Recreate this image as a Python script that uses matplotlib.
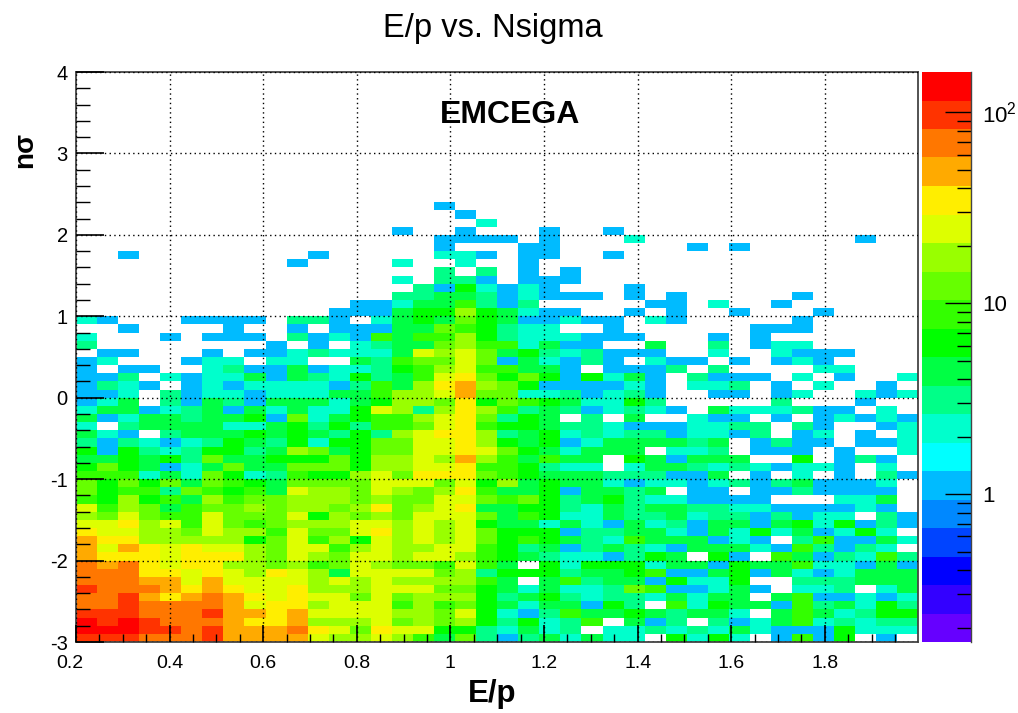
import numpy as np
import matplotlib
matplotlib.use("Agg")
import matplotlib.pyplot as plt
from matplotlib.colors import ListedColormap, LogNorm
from matplotlib.ticker import FixedLocator, LogLocator, NullFormatter
from matplotlib.transforms import ScaledTranslation

plt.rcParams['font.family'] = ['Liberation Sans', 'DejaVu Sans']
plt.rcParams['mathtext.default'] = 'regular'
plt.rcParams['axes.unicode_minus'] = False

# counts per cell read off the colour scale, one letter per cell, top row is y = 2.3
# columns are E/p bins 0.2..2.0 (40), rows are n sigma bins -3..2.4 (54)
count_of = {'.': 0, 'b': 1, 'c': 2, 'd': 3, 'e': 4, 'f': 6, 'g': 9, 'h': 12,
            'i': 17, 'j': 25, 'k': 35, 'l': 50, 'm': 70, 'n': 100, 'o': 135}

rows = [
    "..... ..... ..... ..b.. ..... ..... ..... .....",
    "..... ..... ..... ...b. ..... ..... ..... .....",
    "..... ..... ..... ....c ..... ..... ..... .....",
    "..... ..... ..... b..b. ..b.. b.... ..... .....",
    "..... ..... ..... ..bbb b.b.. .c... ..... ..b..",
    "..... ..... ..... ..b.. .bb.. ....b .b... .....",
    "..b.. ..... .b... ..ccb .bb.. b.... ..... .....",
    "..... ..... b.... c..c. .b... ..... ..... .....",
    "..... ..... ..... ..d.d .b.b. ..... ..... .....",
    "..... ..... ..... c.ddb .bbb. ..... ..... .....",
    "..... ..... ..... .dbfc bcb.. .b... ..... .....",
    "..... ..... ..... ddeed bcbbb .b.b. ....b .....",
    "..... ..... ...bb ceegd bd... ..bb. c..b. .....",
    "..... ..... ..bbb effif ecbb. .b.b. .b... b....",
    "cb... bbbb. ddb.c efehf ebbcb b.cb. ....b .....",
    "..b.. ..b.. b.bbb eehgf dcc.. b.... ..bbb .....",
    "c...b .bbb. dbcbg eggif dcccb bb... b.b.. .....",
    "d.... ....b .b.cd eehig gcebb ..e.. d.bcc .....",
    ".bb.. .b.bb cdccc ejijh efdcd bbb.. c..cb bb...",
    "bc... bcc.c c..ed ghhjh becbd b.cbb .b.bc b....",
    "b.bb. .cdbb ebccd fgijg geeb. bbbd. d.... cc...",
    "bbd.c bcceb edcfd egjkh fhfbf ceb.d bbb.c .b..c",
    "bdcb. bcbcc ccbdg eikli hfbbb bcb.c cd.b. c..b.",
    "bbc.d bccbc cceeg iijlh hccdb cdb.. bb.bc ..cbc",
    "bce.d bedbe eecef iihkf hgfec cfd.. ...d. ..b..",
    "ceebc debec eccfj idiki gdedb cdcb. ecccd bb.c.",
    "ebcee deefb hcefg gijkh dfe.d .e..c bb.b. bcbcb",
    "c.dee eecce fdfdg ghjkg ffedd cbbbc cdd.d b..bc",
    "ecb.d eeefe fedfd ijkki defcd cddbc cbd.b c.b.c",
    "dbdcb cdfed fcffh hjjki fefbc eeeed e.bdb b.bbc",
    "fbfdc dffde ihefh hjjkj hfece ee.cc d.bbb .b..c",
    "eefef dheef ffhfi ijili gegee .febe ee..f .bdb.",
    "fhfeb cehee hhhfi ijjkg gfdcc .ceed cdcbc cb.c.",
    "gggce chfcd gffij hkkkh gfeee dddbb e.b.c .b.db",
    "hfhfh ehgfe hhhhj jjhjf iefee cbccb cdbde bbbc.",
    "hfggd hgfge jiihj ihikg eefbe ede.b b.bbd bbbb.",
    "gfifg eighh iiihi hhjjh ghfde fdccb bbb.. .cce.",
    "jgihe ghhih iihik hijke effdc edeed dccbb bbcb.",
    "ihjhg gjhhh jfihi hjjjh egfcc eddec ddbdb cc.db",
    "jjkij gjhgh iiijj ijijf eecec becdb eebef cfbdb",
    "kjjii hjiig jhhjk ijijh fffbd deecb ecfce bcfc.",
    "lkkii iiifh jgifj ijijh fgfed cgeee bcb.d gbbec",
    "ljlkj kjjih jjgij iijjg fdebd edcbe eecbg dbdc.",
    "lkkkj kkkih jihjj ijjig fedcc bdfe. fb.ge bdcgd",
    "mlmkj kkiih ighji hhgjg e.fcf ffcee bfeeg ccbeb",
    "mmmkk jkjik jiejj jjhid fffde efgbb efbec bceee",
    "mmmll jljjj jijij iiiig e.egd eebfc cf..d ddeee",
    "nmmml klkjj kiiij jjhhf ececc dhgbb ceb.c cd.ce",
    "mmnlk lmlkj kjjhj hiiif defdc ddcec ee.eg bbcbc",
    "mmnmm mmljk kijjj gighf eceeb fd.gc feebg decfd",
    "nnnmm mnllk ljjjj iihjf cbdge efede ec.eg ecdff",
    "ononm mmlkk liiij hihif dfcdg .ebd. dbceg cdcdd",
    "ooonn mnlll mkjhk jjffd cecd. ccdcd cecbb bfccc",
    "nnnmm mnlll ljiij igehd bdece cc.fc fc.bg bf.b.",
]

# ROOT rainbow palette, bottom to top of the colour bar
palette = ['#6600ff', '#3300ff', '#0000ff', '#0044ff', '#0088ff', '#00bbff', '#00ffff',
           '#00ffcc', '#00ff88', '#00ff44', '#00ff00', '#33ff00', '#66ff00', '#99ff00',
           '#ddff00', '#ffee00', '#ffaa00', '#ff7700', '#ff3300', '#ff0000']

z_min = 0.168
z_max = 163
x_ticks = [0.2, 0.4, 0.6, 0.8, 1, 1.2, 1.4, 1.6, 1.8]
y_ticks = [-3, -2, -1, 0, 1, 2, 3, 4]
z_ticks = [1, 10, 100]
z_tick_labels = ['1', '10', '$10^{2}$']

W, H = 1018, 713


def box(left, top, right, bottom):
    return [left / W, 1 - bottom / H, (right - left) / W, (bottom - top) / H]


counts = np.array([[count_of[ch] for ch in r.replace(' ', '')] for r in rows], dtype=float)[::-1]
counts = np.ma.masked_where(counts == 0, counts)
x_edges = np.linspace(0.2, 2.0, 41)
y_edges = np.linspace(-3, 2.4, 55)

fig = plt.figure(figsize=(W / 100, H / 100), dpi=100)
ax = fig.add_axes(box(76, 72, 918, 642))
cax = fig.add_axes(box(922, 72, 971, 642))

cmap = ListedColormap(palette)
cmap.set_bad('white')
mesh = ax.pcolormesh(x_edges, y_edges, counts, cmap=cmap, norm=LogNorm(z_min, z_max), zorder=1)

ax.set_xlim(0.2, 1.999)
ax.set_ylim(-3, 4)
ax.set_xticks(x_ticks)
ax.set_xticklabels(['0.2', '0.4', '0.6', '0.8', '1', '1.2', '1.4', '1.6', '1.8'])
ax.set_yticks(y_ticks)
ax.xaxis.set_minor_locator(FixedLocator(np.arange(0.25, 2.0, 0.05)))
ax.yaxis.set_minor_locator(FixedLocator(np.arange(-3, 4.01, 0.2)))
ax.tick_params(axis='x', which='major', direction='in', length=12, width=1.2, labelsize=14, pad=9)
ax.tick_params(axis='x', which='minor', direction='in', length=6, width=1)
ax.tick_params(axis='y', which='major', direction='in', length=20, width=1.2, labelsize=14.5, pad=6)
ax.tick_params(axis='y', which='minor', direction='in', length=10, width=1)
ax.set_axisbelow(False)
ax.grid(True, which='major', color='black', linewidth=1, linestyle=(0, (1, 2.4)))
for side in ax.spines.values():
    side.set_color('#444444')
    side.set_linewidth(1.3)

# first x label sits left of its tick in the original
first_label = ax.get_xticklabels()[0]
first_label.set_transform(first_label.get_transform() + ScaledTranslation(-6 / 100, 0, fig.dpi_scale_trans))

cb = fig.colorbar(mesh, cax=cax)
cb.outline.set_visible(False)
cb.set_ticks(z_ticks)
cb.set_ticklabels(z_tick_labels)
cax.yaxis.set_minor_locator(LogLocator(base=10, subs=range(2, 10)))
cax.yaxis.set_minor_formatter(NullFormatter())
cax.tick_params(which='major', direction='in', length=19, width=1, labelsize=16, pad=8)
cax.tick_params(which='minor', direction='in', length=10, width=1)
cax.spines['right'].set_visible(True)
cax.spines['right'].set_color('#444444')
cax.spines['right'].set_linewidth(1)

fig.text(493 / W, 1 - 28 / H, 'E/p vs. Nsigma', fontsize=23.5, ha='center', va='center')
fig.text(492 / W, 1 - 694 / H, 'E/p', fontsize=22.5, fontweight='bold', ha='center', va='center')
fig.text(25 / W, 1 - 150 / H, 'nσ', fontsize=20, fontweight='bold', rotation=90, ha='center', va='center')
fig.text(510 / W, 1 - 115 / H, 'EMCEGA', fontsize=23, fontweight='bold', ha='center', va='center')

fig.savefig('out.png', dpi=100)
